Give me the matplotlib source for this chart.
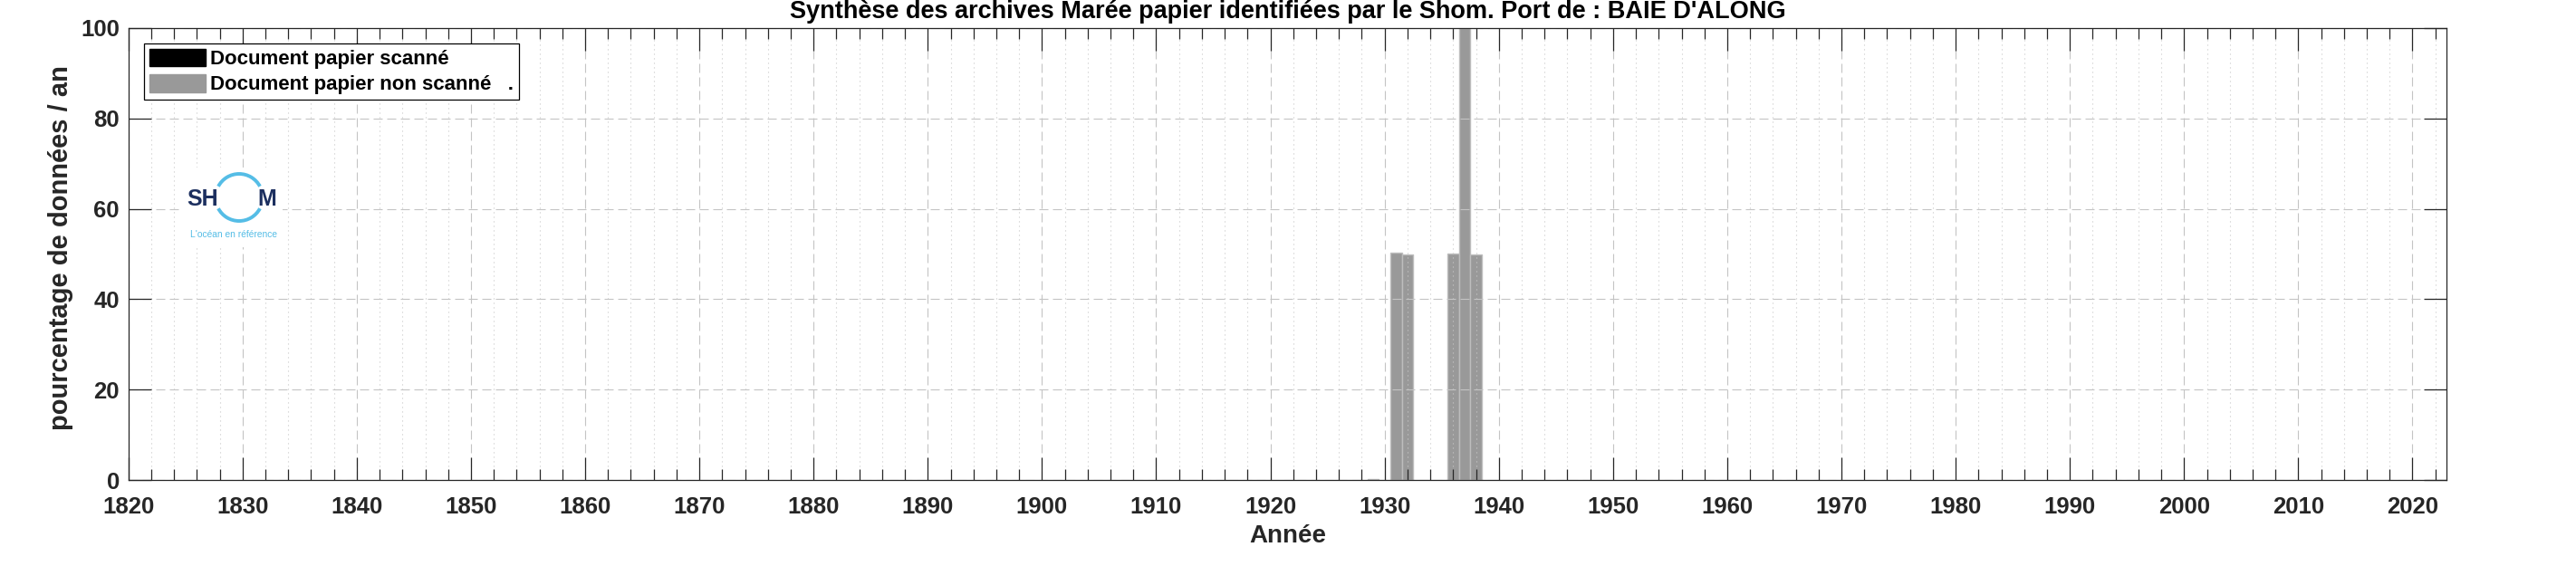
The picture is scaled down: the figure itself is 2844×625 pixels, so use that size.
import matplotlib
matplotlib.use("Agg")
import matplotlib.pyplot as plt
from matplotlib.patches import Patch, Arc, Rectangle
from matplotlib.ticker import MultipleLocator

plt.rcParams['font.family'] = ['Liberation Sans', 'DejaVu Sans']

# ---- data ----
years_non_scanned = [1929, 1931, 1932, 1936, 1937, 1938]
pct_non_scanned = [0.3, 50.3, 50.0, 50.2, 100.0, 49.8]
years_scanned = []
pct_scanned = []

title = "Synthèse des archives Marée papier identifiées par le Shom. Port de : BAIE D'ALONG"
xlabel = "Année"
ylabel = "pourcentage de données / an"
legend_labels = ["Document papier scanné", "Document papier non scanné   ."]

W, H = 2844, 625
fig = plt.figure(figsize=(W / 100, H / 100), dpi=100)
L, R, B, T = 141.7, 2701.3, 530, 31
ax = fig.add_axes([L / W, 1 - B / H, (R - L) / W, (B - T) / H])

tc = '#262626'
ax.bar(years_scanned, pct_scanned, width=1.0, color='black', zorder=1)
ax.bar(years_non_scanned, pct_non_scanned, width=1.0, color='#999999',
       edgecolor='#bdbdbd', linewidth=1.0, zorder=1)

ax.set_xlim(1820, 2023)
ax.set_ylim(0, 100)
ax.xaxis.set_major_locator(MultipleLocator(10))
ax.xaxis.set_minor_locator(MultipleLocator(2))
ax.yaxis.set_major_locator(MultipleLocator(20))

ax.grid(which='major', axis='both', color='#c4c4c4', linewidth=0.8, dashes=(9, 4.5))
ax.grid(which='minor', axis='x', color='#c8c8c8', linewidth=0.8, dashes=(1, 3.5))

ax.tick_params(which='major', direction='in', length=18, width=0.9, color=tc,
               top=True, right=True, labelsize=18.5, labelcolor=tc, pad=13)
ax.tick_params(which='minor', direction='in', length=8.6, width=0.9, color=tc,
               top=True, right=True)
ax.tick_params(axis='y', which='major', pad=7)
for lab in ax.get_xticklabels() + ax.get_yticklabels():
    lab.set_fontweight('bold')
for s in ax.spines.values():
    s.set_color(tc)
    s.set_linewidth(0.9)

fig.text(1422 / W, 1 - 19.5 / H, title, ha='center', va='baseline', fontsize=19.5,
         fontweight='bold', color='black')
fig.text(1422 / W, 1 - 592 / H, xlabel, ha='center', va='center', fontsize=20,
         fontweight='bold', color=tc)
fig.text(67 / W, 1 - 274 / H, ylabel, ha='center', va='center', fontsize=21,
         fontweight='bold', color=tc, rotation=90)

handles = [Patch(facecolor='black', edgecolor='black'),
           Patch(facecolor='#999999', edgecolor='#999999')]
leg = ax.legend(handles, legend_labels, loc='upper left',
                bbox_to_anchor=((159 - L) / (R - L), (B - 48) / (B - T)),
                prop={'weight': 'bold', 'size': 16},
                frameon=True, fancybox=False, edgecolor='black', framealpha=1,
                borderpad=0.25, labelspacing=0.25, handlelength=2.8, handleheight=1.0,
                handletextpad=0.25, borderaxespad=0)
leg.get_frame().set_linewidth(0.9)

# ---- logo overlay (pixel coordinates) ----
lax = fig.add_axes([0, 0, 1, 1], zorder=5)
lax.set_xlim(0, W)
lax.set_ylim(H, 0)
lax.axis('off')
lax.add_patch(Rectangle((198, 185), 114, 88, facecolor='white', edgecolor='none'))
navy = '#1c2f5f'
sky = '#55bde6'
lax.text(241, 220, "SH", ha='right', va='center', fontsize=18, fontweight='bold', color=navy)
lax.text(284, 220, "M", ha='left', va='center', fontsize=18, fontweight='bold', color=navy)
lax.add_patch(Arc((264, 218), 52, 52, theta1=28, theta2=152, color=sky, lw=2.8))
lax.add_patch(Arc((264, 218), 52, 52, theta1=208, theta2=332, color=sky, lw=2.8))
lax.text(258, 259, "L'océan en référence", ha='center', va='center', fontsize=7.4, color=sky)

fig.savefig("out.png", dpi=100)
